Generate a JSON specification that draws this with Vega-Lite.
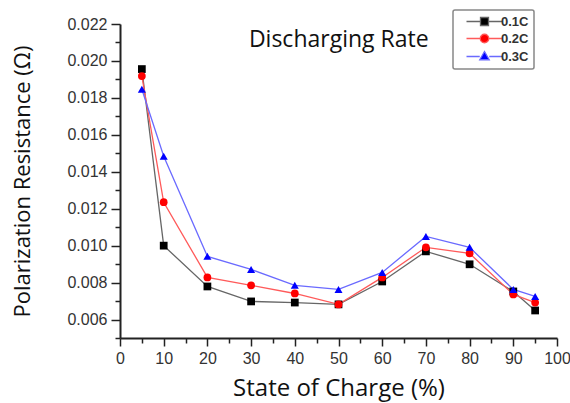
{
  "$schema": "https://vega.github.io/schema/vega-lite/v6.json",
  "width": 437,
  "height": 314,
  "autosize": "none",
  "padding": {"left": 120, "top": 24, "right": 13, "bottom": 65},
  "background": "white",
  "config": {
    "view": {"stroke": null},
    "axis": {"grid": false}
  },
  "data": {
    "values": [
      {"rate": "0.1C", "soc": 5, "r": 0.01956},
      {"rate": "0.1C", "soc": 10, "r": 0.0100},
      {"rate": "0.1C", "soc": 20, "r": 0.00779},
      {"rate": "0.1C", "soc": 30, "r": 0.00698},
      {"rate": "0.1C", "soc": 40, "r": 0.00692},
      {"rate": "0.1C", "soc": 50, "r": 0.00682},
      {"rate": "0.1C", "soc": 60, "r": 0.00806},
      {"rate": "0.1C", "soc": 70, "r": 0.00969},
      {"rate": "0.1C", "soc": 80, "r": 0.00899},
      {"rate": "0.1C", "soc": 90, "r": 0.00752},
      {"rate": "0.1C", "soc": 95, "r": 0.00649},
      {"rate": "0.2C", "soc": 5, "r": 0.01918},
      {"rate": "0.2C", "soc": 10, "r": 0.01235},
      {"rate": "0.2C", "soc": 20, "r": 0.00828},
      {"rate": "0.2C", "soc": 30, "r": 0.00785},
      {"rate": "0.2C", "soc": 40, "r": 0.00741},
      {"rate": "0.2C", "soc": 50, "r": 0.00682},
      {"rate": "0.2C", "soc": 60, "r": 0.00828},
      {"rate": "0.2C", "soc": 70, "r": 0.00991},
      {"rate": "0.2C", "soc": 80, "r": 0.00958},
      {"rate": "0.2C", "soc": 90, "r": 0.00736},
      {"rate": "0.2C", "soc": 95, "r": 0.00692},
      {"rate": "0.3C", "soc": 5, "r": 0.01847},
      {"rate": "0.3C", "soc": 10, "r": 0.01484},
      {"rate": "0.3C", "soc": 20, "r": 0.00942},
      {"rate": "0.3C", "soc": 30, "r": 0.00871},
      {"rate": "0.3C", "soc": 40, "r": 0.00785},
      {"rate": "0.3C", "soc": 50, "r": 0.00763},
      {"rate": "0.3C", "soc": 60, "r": 0.00855},
      {"rate": "0.3C", "soc": 70, "r": 0.0105},
      {"rate": "0.3C", "soc": 80, "r": 0.00991},
      {"rate": "0.3C", "soc": 90, "r": 0.00763},
      {"rate": "0.3C", "soc": 95, "r": 0.00725}
    ]
  },
  "resolve": {"axis": {"x": "independent", "y": "independent"}},
  "layer": [
    {
      "mark": {"type": "line", "strokeWidth": 1.3},
      "encoding": {
        "x": {
          "field": "soc", "type": "quantitative",
          "scale": {"domain": [0, 100], "nice": false, "zero": false},
          "axis": {
            "orient": "bottom",
            "values": [0, 10, 20, 30, 40, 50, 60, 70, 80, 90, 100],
            "title": "State of Charge (%)",
            "titleFont": "Open Sans", "titleFontSize": 24, "titleFontWeight": "normal", "titleColor": "#111",
            "titlePadding": 10,
            "labelFont": "Liberation Sans", "labelFontSize": 16, "labelColor": "#333",
            "labelPadding": 4, "labelFlush": false, "labelOverlap": false,
            "domainColor": "#222", "domainWidth": 2,
            "tickColor": "#222", "tickWidth": 1.5, "tickSize": 8
          }
        },
        "y": {
          "field": "r", "type": "quantitative",
          "scale": {"domain": [0.005, 0.022], "nice": false, "zero": false},
          "axis": {
            "orient": "left",
            "values": [0.006, 0.008, 0.010, 0.012, 0.014, 0.016, 0.018, 0.020, 0.022],
            "format": ".3f",
            "title": "Polarization Resistance (Ω)",
            "titleFont": "Open Sans", "titleFontSize": 22, "titleFontWeight": "normal", "titleColor": "#111",
            "titlePadding": 32,
            "labelFont": "Liberation Sans", "labelFontSize": 16, "labelColor": "#333",
            "labelPadding": 4, "labelFlush": false, "labelOverlap": false,
            "domainColor": "#222", "domainWidth": 2,
            "tickColor": "#222", "tickWidth": 1.5, "tickSize": 9
          }
        },
        "stroke": {
          "field": "rate", "type": "nominal",
          "scale": {"domain": ["0.1C", "0.2C", "0.3C"], "range": ["#666666", "#ff5a5a", "#6a6aff"]},
          "legend": {
            "title": null,
            "orient": "none",
            "legendX": 333,
            "legendY": -14,
            "padding": 5,
            "strokeColor": "#888",
            "cornerRadius": 2,
            "fillColor": "white",
            "symbolSize": 100,
            "labelOffset": 30,
            "rowPadding": 2,
            "labelFont": "Liberation Sans",
            "labelFontSize": 13,
            "labelFontWeight": "bold",
            "labelColor": "#333",
            "encode": {
              "legend": {"update": {"strokeWidth": {"value": 1.5}}},
              "symbols": {
                "update": {
                  "shape": {"signal": "datum.value === '0.1C' ? 'M0.4,0H3.2M4.8,0H7.6M3.2,-0.8H4.8V0.8H3.2Z' : datum.value === '0.2C' ? 'M0.4,0H3.15M4.85,0H7.6M4.85,0A0.85,0.85 0 1 1 3.15,0A0.85,0.85 0 1 1 4.85,0Z' : 'M0.4,0H3.05M4.95,0H7.6M4,-1L4.95,0.65H3.05Z'"},
                  "fill": {"signal": "datum.value === '0.1C' ? '#000000' : datum.value === '0.2C' ? '#ff0000' : '#0000ff'"},
                  "stroke": {"signal": "datum.value === '0.1C' ? '#666666' : datum.value === '0.2C' ? '#ff5a5a' : '#6a6aff'"},
                  "strokeWidth": {"value": 1.3},
                  "opacity": {"value": 1}
                }
              }
            }
          }
        }
      }
    },
    {
      "transform": [{"filter": "datum.rate === '0.1C'"}],
      "mark": {"type": "point", "filled": true, "size": 60, "opacity": 1, "shape": "square", "color": "#000000"},
      "encoding": {
        "x": {
          "field": "soc", "type": "quantitative",
          "axis": {
            "orient": "bottom",
            "values": [5, 15, 25, 35, 45, 55, 65, 75, 85, 95],
            "labels": false, "domain": false, "title": null,
            "tickColor": "#222", "tickWidth": 1.5, "tickSize": 5
          }
        },
        "y": {
          "field": "r", "type": "quantitative",
          "axis": {
            "orient": "left",
            "values": [0.005, 0.007, 0.009, 0.011, 0.013, 0.015, 0.017, 0.019, 0.021],
            "labels": false, "domain": false, "title": null,
            "tickColor": "#222", "tickWidth": 1.5, "tickSize": 5
          }
        }
      }
    },
    {
      "transform": [{"filter": "datum.rate === '0.2C'"}],
      "mark": {"type": "point", "filled": true, "size": 60, "opacity": 1, "shape": "circle", "color": "#ff0000"},
      "encoding": {
        "x": {"field": "soc", "type": "quantitative", "axis": null},
        "y": {"field": "r", "type": "quantitative", "axis": null}
      }
    },
    {
      "transform": [{"filter": "datum.rate === '0.3C'"}],
      "mark": {"type": "point", "filled": true, "size": 65, "opacity": 1, "shape": "triangle-up", "color": "#0000ff"},
      "encoding": {
        "x": {"field": "soc", "type": "quantitative", "axis": null},
        "y": {"field": "r", "type": "quantitative", "axis": null}
      }
    },
    {
      "data": {"values": [{"label": "Discharging Rate"}]},
      "mark": {"type": "text", "font": "Open Sans", "fontSize": 23, "align": "left", "baseline": "alphabetic", "fill": "#111"},
      "encoding": {
        "text": {"field": "label", "type": "nominal"},
        "x": {"datum": 29.5, "type": "quantitative", "axis": null},
        "y": {"datum": 0.02073, "type": "quantitative", "axis": null}
      }
    }
  ]
}
